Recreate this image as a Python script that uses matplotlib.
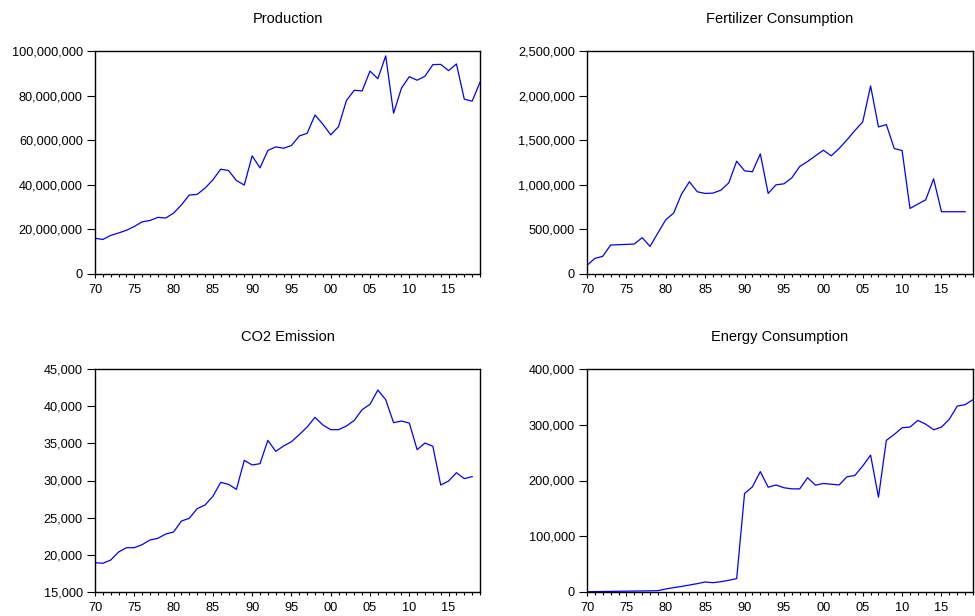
import matplotlib.pyplot as plt
from matplotlib.ticker import FuncFormatter, MultipleLocator

plt.rcParams['font.family'] = ['Liberation Sans', 'DejaVu Sans']

years = list(range(1970, 2020))

production = [16.0, 15.5, 17.3, 18.4, 19.6, 21.3, 23.4, 24.0, 25.4, 25.1,
              27.3, 31.0, 35.4, 35.7, 38.5, 42.2, 47.0, 46.4, 41.9, 39.9,
              53.0, 47.6, 55.4, 57.0, 56.4, 57.6, 61.9, 63.1, 71.3, 67.2,
              62.4, 66.1, 77.8, 82.4, 82.1, 91.0, 87.6, 97.8, 72.1, 83.3,
              88.5, 86.9, 88.7, 93.9, 94.0, 91.2, 94.2, 78.4, 77.5, 86.0]
production = [v * 1e6 for v in production]

fertilizer = [97, 175, 198, 325, 328, 332, 336, 407, 310, 460,
              608, 683, 896, 1034, 922, 903, 907, 940, 1022, 1265,
              1157, 1146, 1347, 903, 1000, 1011, 1078, 1205, 1261, 1325,
              1388, 1325, 1407, 1504, 1608, 1705, 2108, 1649, 1675, 1407,
              1384, 735, 784, 832, 1067, 698, 698, 698, 698]
fertilizer = [v * 1e3 for v in fertilizer]

co2 = [18950, 18860, 19300, 20380, 20960, 20960, 21370, 22000, 22220, 22800,
       23070, 24550, 24910, 26210, 26700, 27870, 29750, 29480, 28810, 32710,
       32090, 32260, 35400, 33920, 34640, 35220, 36170, 37200, 38500, 37470,
       36840, 36840, 37330, 38090, 39530, 40250, 42170, 40870, 37780, 38000,
       37730, 34150, 35040, 34600, 29390, 29930, 31050, 30250, 30520]

energy = [500, 700, 900, 1100, 1300, 1500, 1700, 1900, 2100, 2400,
          5400, 7800, 10000, 12500, 15000, 18000, 16700, 18500, 21000, 24000,
          176600, 188600, 216000, 188000, 192000, 187000, 185000, 185000, 205000, 191600,
          194600, 193400, 192000, 206600, 209000, 226000, 245500, 170000, 272000, 282600,
          294600, 295800, 307800, 301000, 291000, 295800, 310000, 333500, 336000, 345000]

panels = [
    ('Production', production, 0, 100e6, 20e6),
    ('Fertilizer Consumption', fertilizer, 0, 2.5e6, 500e3),
    ('CO2 Emission', co2, 15000, 45000, 5000),
    ('Energy Consumption', energy, 0, 400e3, 100e3),
]

# axes boxes in pixels: left, top, right, bottom
boxes = [(95, 51, 480, 274), (587, 51, 973, 274),
         (95, 369, 480, 592), (587, 369, 973, 592)]

W, H = 975, 616
fig = plt.figure(figsize=(W / 100, H / 100), dpi=100)

for (title, vals, ymin, ymax, step), (l, t, r, b) in zip(panels, boxes):
    ax = fig.add_axes([l / W, 1 - b / H, (r - l) / W, (b - t) / H])
    ax.plot(years[:len(vals)], vals, color='#0000FF', linewidth=0.9)
    ax.set_xlim(1970, 2019)
    ax.set_ylim(ymin, ymax)
    ax.xaxis.set_major_locator(MultipleLocator(5))
    ax.xaxis.set_minor_locator(MultipleLocator(1))
    ax.xaxis.set_major_formatter(FuncFormatter(lambda x, p: '%02d' % (int(round(x)) % 100)))
    ax.yaxis.set_major_locator(MultipleLocator(step))
    ax.yaxis.set_major_formatter(FuncFormatter(lambda y, p: '{:,.0f}'.format(y)))
    ax.tick_params(axis='both', which='major', direction='out', width=0.8,
                   labelsize=9.2, colors='black')
    ax.tick_params(axis='x', which='major', length=3, pad=4)
    ax.tick_params(axis='y', which='major', length=5.8, pad=3)
    ax.tick_params(axis='x', which='minor', direction='out', length=2.5, width=0.8)
    for s in ax.spines.values():
        s.set_linewidth(1.0)
    ax.set_title(title, fontsize=10.5, pad=20)

fig.savefig('out.png', dpi=100)
